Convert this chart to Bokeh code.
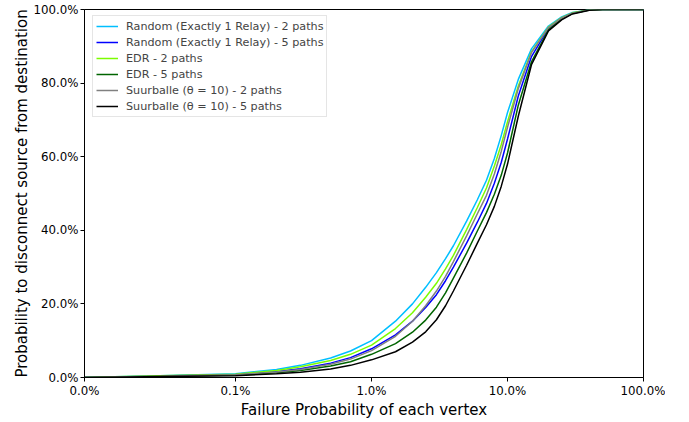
import numpy as np
from bokeh.plotting import figure
from bokeh.models import Range1d, FixedTicker, PrintfTickFormatter, Legend, LegendItem
from bokeh.embed import file_html
from bokeh.resources import INLINE

# ---- data (values in percent) ----
FAIL_PROB = [0, 0.02, 0.05, 0.1, 0.2, 0.3, 0.5, 0.7, 1, 1.5, 2, 2.5, 3, 3.5, 4, 5, 6, 7, 8, 9, 10, 12, 15, 20, 25, 30, 40, 50, 70, 100]

RANDOM_2 = [0, 0.2, 0.5, 1.0, 2.2, 3.3, 5.3, 7.2, 10.0, 15.3, 20.0, 24.5, 28.5, 32.3, 35.8, 42.5, 48.3, 53.6, 59.5, 65.8, 72.0, 81.0, 89.3, 95.5, 98.0, 99.2, 99.9, 100, 100, 100]
RANDOM_5 = [0, 0.15, 0.4, 0.8, 1.6, 2.4, 3.9, 5.4, 7.8, 11.6, 15.3, 19.0, 22.5, 26.3, 30.0, 36.5, 42.2, 47.3, 52.8, 58.5, 64.8, 76.5, 87.2, 94.9, 97.6, 99.0, 99.9, 100, 100, 100]
EDR_2 = [0, 0.2, 0.45, 0.9, 1.9, 2.9, 4.6, 6.3, 8.8, 13.3, 17.6, 21.8, 25.6, 29.5, 33.2, 40.2, 46.2, 51.5, 57.5, 63.3, 69.5, 79.2, 88.5, 95.2, 97.8, 99.1, 99.9, 100, 100, 100]
EDR_5 = [0, 0.12, 0.3, 0.65, 1.3, 1.9, 3.1, 4.3, 6.3, 9.2, 12.3, 15.6, 19.1, 23.0, 27.0, 33.8, 39.8, 44.8, 49.8, 55.0, 61.0, 74.0, 85.8, 94.5, 97.4, 98.9, 99.85, 100, 100, 100]
SUURBALLE_2 = [0, 0.15, 0.35, 0.75, 1.5, 2.2, 3.6, 5.0, 7.3, 11.2, 15.3, 19.5, 23.5, 27.5, 31.5, 38.5, 44.5, 49.5, 55.3, 61.5, 68.0, 78.5, 88.3, 95.1, 97.7, 99.0, 99.9, 100, 100, 100]
SUURBALLE_5 = [0, 0.1, 0.25, 0.5, 1.0, 1.4, 2.3, 3.3, 4.8, 7.0, 9.6, 12.4, 15.7, 19.5, 23.5, 30.5, 36.5, 41.5, 46.5, 52.0, 58.0, 71.0, 85.0, 94.2, 97.2, 98.8, 99.8, 100, 100, 100]

SERIES_LABELS = [
    "Random (Exactly 1 Relay) - 2 paths",
    "Random (Exactly 1 Relay) - 5 paths",
    "EDR - 2 paths",
    "EDR - 5 paths",
    "Suurballe (\u03b8 = 10) - 2 paths",
    "Suurballe (\u03b8 = 10) - 5 paths",
]
SERIES_COLORS = ["#00bfff", "#0000ff", "#7cfc00", "#006400", "#808080", "#000000"]

X_TICK_VALUES = [0, 0.1, 1, 10, 100]
X_TICK_LABELS = ["0.0%", "0.1%", "1.0%", "10.0%", "100.0%"]
Y_TICK_VALUES = [0, 20, 40, 60, 80, 100]

# symmetric-log scale (linear below 0.1 %, log above), as in the source chart
LINTHRESH = 0.1
LINSCALE = 1.0 / (1.0 - 1.0 / 10.0)


def symlog(v):
    v = np.asarray(v, dtype=float)
    return np.where(v <= LINTHRESH, LINSCALE * v / LINTHRESH,
                    LINSCALE + np.log10(np.maximum(v, LINTHRESH) / LINTHRESH))


FRAME_W, FRAME_H = 559, 368
p = figure(frame_width=FRAME_W, frame_height=FRAME_H,
           output_backend="svg", toolbar_location=None,
           x_range=Range1d(float(symlog(0)), float(symlog(100))),
           y_range=Range1d(0, 100),
           min_border_left=84, min_border_right=22, min_border_top=9, min_border_bottom=30)

xs = symlog(FAIL_PROB)
renderers = []
for ys, col in zip([RANDOM_2, RANDOM_5, EDR_2, EDR_5, SUURBALLE_2, SUURBALLE_5], SERIES_COLORS):
    r = p.line(xs, ys, line_color=col, line_width=1.5)
    renderers.append(r)

tick_pos = [float(t) for t in symlog(X_TICK_VALUES)]
p.xaxis.ticker = FixedTicker(ticks=tick_pos)
p.xaxis.major_label_overrides = {t: lab for t, lab in zip(tick_pos, X_TICK_LABELS)}
p.yaxis.ticker = FixedTicker(ticks=Y_TICK_VALUES)
p.yaxis.formatter = PrintfTickFormatter(format="%.1f%%")

p.xaxis.axis_label = "Failure Probability of each vertex"
p.yaxis.axis_label = "Probability to disconnect source from destination"

for ax in (p.xaxis[0], p.yaxis[0]):
    ax.axis_label_text_font = "DejaVu Sans"
    ax.axis_label_text_font_size = "15px"
    ax.axis_label_text_font_style = "normal"
    ax.axis_label_text_color = "black"
    ax.major_label_text_font = "DejaVu Sans"
    ax.major_label_text_font_size = "11.8px"
    ax.major_label_text_color = "black"
    ax.major_tick_in = 0
    ax.major_tick_out = 4
    ax.minor_tick_line_color = None
    ax.major_tick_line_color = "black"
    ax.axis_line_color = "black"
    ax.major_label_standoff = 2
    ax.axis_label_standoff = 0

p.xgrid.visible = False
p.ygrid.visible = False
p.outline_line_color = "black"
p.outline_line_width = 1
p.background_fill_color = "white"
p.border_fill_color = "white"

legend = Legend(items=[LegendItem(label=lab, renderers=[r]) for lab, r in zip(SERIES_LABELS, renderers)])
legend.location = (8, FRAME_H - 108)
legend.margin = 0
legend.padding = 3
legend.spacing = 2
legend.label_height = 14
legend.glyph_height = 14
legend.glyph_width = 22
legend.label_standoff = 8
legend.label_text_font = "DejaVu Sans"
legend.label_text_font_size = "11.2px"
legend.border_line_color = "#cccccc"
legend.border_line_width = 1
legend.background_fill_alpha = 0.85
p.add_layout(legend)

open("out.html", "w").write(file_html(p, INLINE))
